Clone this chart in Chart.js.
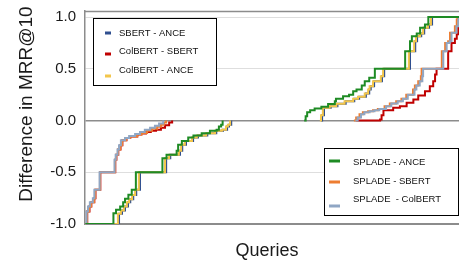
<!DOCTYPE html>
<html>
<head>
<meta charset="utf-8">
<script src="https://cdn.jsdelivr.net/npm/chart.js@4/dist/chart.umd.min.js"></script>
<style>
  html, body { margin: 0; padding: 0; background: #fff; }
  canvas { display: block; }
</style>
</head>
<body>
<canvas id="myChart" width="459" height="263"></canvas>
<script>
var yTicks = [-1.0, -0.5, 0.0, 0.5, 1.0];
var seriesNames = ['SBERT - ANCE', 'ColBERT - SBERT', 'ColBERT - ANCE', 'SPLADE - ANCE', 'SPLADE - SBERT', 'SPLADE  - ColBERT'];
var seriesColors = ['#2F4F8F', '#C00000', '#F3C64B', '#1E8B24', '#ED7D31', '#8FA6C4'];

// sorted per-query differences: [% of queries, difference] at each step
var sbertAnceNeg = [[0.1,-1.0],[9.1,-0.90],[9.9,-0.87],[10.7,-0.83],[11.5,-0.79],[12.1,-0.76],[12.9,-0.72],[13.7,-0.67],[14.7,-0.5],[21.7,-0.364],[22.8,-0.332],[25.4,-0.293],[26.0,-0.235],[27.0,-0.198],[28.9,-0.164],[30.2,-0.145],[32.7,-0.122],[35.1,-0.10],[36.9,-0.09],[38.0,-0.058],[38.5,-0.042],[39.1,0]];
var sbertAncePos = [[63.1,0],[63.4,0.05],[63.9,0.123],[65.7,0.138],[67.5,0.161],[69.7,0.186],[72.0,0.21],[73.3,0.229],[75.1,0.26],[76.0,0.30],[76.4,0.33],[77.3,0.38],[79.4,0.428],[80.0,0.5],[86.9,0.67],[88.3,0.766],[88.8,0.815],[89.9,0.84],[90.7,0.896],[92.0,0.928],[92.8,1.0],[100,1.0]];

var colbertSbertNeg = [[0.3,-1.0],[0.6,-0.88],[1.2,-0.83],[1.7,-0.79],[2.5,-0.75],[2.8,-0.67],[4.1,-0.5],[8.1,-0.38],[8.4,-0.33],[8.9,-0.28],[9.5,-0.24],[10.0,-0.19],[11.1,-0.17],[12.1,-0.155],[14.0,-0.135],[15.0,-0.125],[16.3,-0.11],[17.6,-0.10],[19.0,-0.09],[20.3,-0.07],[21.4,-0.045],[22.5,-0.02],[23.3,0]];
var colbertSbertPos = [[72.5,0],[78.9,0.01],[79.3,0.05],[79.8,0.10],[82.4,0.123],[84.2,0.138],[86.0,0.171],[87.8,0.203],[89.1,0.242],[90.9,0.283],[92.2,0.33],[93.1,0.38],[93.6,0.444],[94.0,0.5],[97.1,0.67],[98.0,0.75],[98.9,0.79],[99.4,0.833],[99.8,0.91],[100,0.93]];

var colbertAnceNeg = [[0.1,-1.0],[8.8,-0.90],[9.6,-0.87],[10.4,-0.83],[11.2,-0.79],[11.8,-0.76],[12.6,-0.72],[13.4,-0.67],[14.4,-0.5],[21.4,-0.364],[22.5,-0.332],[25.1,-0.293],[25.7,-0.235],[26.7,-0.198],[28.6,-0.164],[29.9,-0.145],[32.4,-0.122],[34.8,-0.10],[36.6,-0.09],[37.7,-0.058],[38.2,-0.042],[38.8,0]];
var colbertAncePos = [[62.8,0],[63.1,0.05],[63.6,0.123],[65.4,0.138],[67.2,0.161],[69.4,0.186],[71.7,0.21],[73.0,0.229],[74.8,0.26],[75.7,0.30],[76.1,0.33],[77.0,0.38],[79.1,0.428],[79.7,0.5],[86.6,0.67],[88.0,0.766],[88.5,0.815],[89.6,0.84],[90.4,0.896],[91.7,0.928],[92.5,1.0],[100,1.0]];

var spladeAnceNeg = [[0.1,-1.0],[7.6,-0.896],[8.3,-0.863],[9.4,-0.831],[10.2,-0.79],[10.7,-0.757],[11.6,-0.718],[12.5,-0.67],[13.6,-0.5],[20.7,-0.364],[21.8,-0.332],[24.5,-0.293],[24.9,-0.235],[25.9,-0.198],[27.6,-0.164],[29.0,-0.145],[31.2,-0.122],[33.4,-0.10],[35.2,-0.09],[35.8,-0.058],[36.4,-0.042],[36.8,0]];
var spladeAncePos = [[58.6,0],[59.0,0.04],[59.4,0.08],[60.2,0.10],[61.4,0.116],[63.2,0.132],[65.0,0.16],[66.8,0.186],[67.1,0.21],[69.0,0.235],[70.6,0.25],[71.7,0.283],[72.6,0.30],[74.0,0.338],[74.8,0.38],[76.0,0.413],[77.5,0.5],[85.6,0.67],[86.9,0.766],[87.4,0.815],[88.7,0.84],[89.6,0.896],[90.9,0.928],[91.8,1.0],[100,1.0]];

var spladeSbertNeg = [[0.3,-1.0],[0.5,-0.88],[1.1,-0.83],[1.6,-0.79],[2.4,-0.75],[2.7,-0.67],[4.0,-0.5],[8.0,-0.38],[8.3,-0.33],[8.8,-0.28],[9.4,-0.24],[9.9,-0.19],[11.0,-0.17],[12.0,-0.155],[13.9,-0.135],[15.2,-0.12],[16.6,-0.10],[17.9,-0.08],[19.3,-0.06],[20.3,-0.04],[21.1,-0.02],[21.7,0]];
var spladeSbertPos = [[71.9,0],[72.5,0.03],[73.4,0.06],[74.3,0.08],[75.7,0.09],[77.0,0.10],[78.3,0.11],[80.1,0.138],[81.5,0.165],[83.2,0.186],[84.6,0.21],[85.9,0.25],[87.7,0.30],[88.2,0.338],[89.1,0.38],[89.8,0.428],[90.0,0.5],[95.4,0.67],[96.3,0.75],[97.1,0.766],[97.6,0.847],[98.9,0.91],[99.4,0.976],[99.6,1.0],[100,1.0]];

var spladeColbertNeg = [[0.3,-1.0],[0.4,-0.88],[0.8,-0.83],[1.3,-0.79],[2.1,-0.75],[2.5,-0.67],[3.9,-0.5],[7.9,-0.38],[8.2,-0.33],[8.7,-0.28],[9.1,-0.24],[9.6,-0.19],[10.7,-0.17],[11.8,-0.15],[13.4,-0.13],[14.7,-0.11],[16.0,-0.09],[17.4,-0.07],[18.7,-0.05],[19.8,-0.03],[20.9,0]];
var spladeColbertPos = [[72.3,0],[72.9,0.03],[73.8,0.06],[74.7,0.08],[76.1,0.09],[77.4,0.10],[78.7,0.11],[80.5,0.138],[81.9,0.165],[83.6,0.186],[85.0,0.21],[86.3,0.25],[88.1,0.30],[88.6,0.338],[89.5,0.38],[90.2,0.428],[90.4,0.5],[95.8,0.67],[96.7,0.75],[97.5,0.766],[98.0,0.847],[99.3,0.91],[99.8,0.976],[100,0.99]];

var seriesParts = [
	[sbertAnceNeg, sbertAncePos],
	[colbertSbertNeg, colbertSbertPos],
	[colbertAnceNeg, colbertAncePos],
	[spladeAnceNeg, spladeAncePos],
	[spladeSbertNeg, spladeSbertPos],
	[spladeColbertNeg, spladeColbertPos]
];
// drawing order: lower is on top
var seriesOrder = [3, 6, 2, 1, 5, 4];

function toPoints(neg, pos){
	var gapX = (neg[neg.length - 1][0] + pos[0][0]) / 2;
	return neg.map(function(p){ return {x: p[0], y: p[1]}; })
		.concat([{x: gapX, y: null}])
		.concat(pos.map(function(p){ return {x: p[0], y: p[1]}; }));
}

var datasets = seriesNames.map(function(name, i){
	return {
		label: name,
		data: toPoints(seriesParts[i][0], seriesParts[i][1]),
		borderColor: seriesColors[i],
		backgroundColor: seriesColors[i],
		borderWidth: 2,
		pointRadius: 0,
		stepped: true,
		spanGaps: false,
		fill: false,
		order: seriesOrder[i]
	};
});

var legendBoxes = [
	{ x: 93.5, y: 18.5, w: 123, h: 67, items: [
		{ ds: 0, sx: 105, sw: 6, sy: 33, tx: 119, ty: 33 },
		{ ds: 1, sx: 105, sw: 6, sy: 54, tx: 119, ty: 51 },
		{ ds: 2, sx: 105, sw: 6, sy: 76, tx: 119, ty: 70 }
	]},
	{ x: 324.5, y: 148.5, w: 134, h: 67, items: [
		{ ds: 3, sx: 329, sw: 11, sy: 161, tx: 353, ty: 162.5 },
		{ ds: 4, sx: 329, sw: 11, sy: 182, tx: 353, ty: 181 },
		{ ds: 5, sx: 329, sw: 11, sy: 206, tx: 353, ty: 199.5 }
	]}
];

var overlay = {
	id: 'overlay',
	afterDraw: function(chart){
		var c = chart.ctx, a = chart.chartArea;
		c.save();
		// top frame line
		c.strokeStyle = '#8c8c8c';
		c.lineWidth = 1.5;
		c.beginPath();
		c.moveTo(a.left, a.top + 0.5);
		c.lineTo(a.right, a.top + 0.5);
		c.stroke();

		// axis titles
		c.fillStyle = '#1a1a1a';
		c.font = '18px "Liberation Sans", Arial, sans-serif';
		c.textAlign = 'center';
		c.textBaseline = 'alphabetic';
		c.fillText('Queries', 267, 256);
		c.save();
		c.translate(31.5, 104);
		c.rotate(-Math.PI / 2);
		c.font = '19px "Liberation Sans", Arial, sans-serif';
		c.fillText('Difference in MRR@10', 0, 0);
		c.restore();

		// legends
		legendBoxes.forEach(function(box){
			c.fillStyle = '#fff';
			c.fillRect(box.x, box.y, box.w, box.h);
			c.strokeStyle = '#000';
			c.lineWidth = 1;
			c.strokeRect(box.x, box.y, box.w, box.h);
			box.items.forEach(function(it){
				var ds = chart.data.datasets[it.ds];
				c.fillStyle = ds.borderColor;
				c.fillRect(it.sx, it.sy - 1.5, it.sw, 3);
				c.fillStyle = '#111';
				c.font = '9.5px "Liberation Sans", Arial, sans-serif';
				c.textAlign = 'left';
				c.textBaseline = 'middle';
				c.fillText(ds.label, it.tx, it.ty);
			});
		});
		c.restore();
	}
};

var myChart = new Chart(document.getElementById('myChart'), {
	type: 'line',
	data: { datasets: datasets },
	options: {
		responsive: false,
		animation: false,
		devicePixelRatio: 1,
		layout: { padding: { top: 11, right: 0, left: 0, bottom: 0 } },
		plugins: { legend: { display: false }, tooltip: { enabled: false } },
		scales: {
			x: {
				type: 'linear',
				min: 0,
				max: 100,
				ticks: { display: false },
				grid: { display: false },
				border: { display: true, color: '#8c8c8c', width: 1.5 },
				afterFit: function(s){
					s.height = 39;
					s.paddingLeft = 0; s.paddingRight = 0;
				}
			},
			y: {
				type: 'linear',
				min: -1.0,
				max: 1.058,
				afterBuildTicks: function(s){
					s.ticks = yTicks.map(function(v){ return { value: v }; });
				},
				afterFit: function(s){
					s.width = 85;
					s.paddingTop = 0; s.paddingBottom = 0;
				},
				ticks: {
					padding: 9,
					color: '#1a1a1a',
					font: { family: '"Liberation Sans", Arial, sans-serif', size: 15 },
					callback: function(v){ return Number(v).toFixed(1); }
				},
				grid: {
					drawTicks: false,
					color: function(ctx){
						var v = ctx.tick ? ctx.tick.value : null;
						return (v === 0 || v === -1) ? '#8c8c8c' : '#dedede';
					},
					lineWidth: function(ctx){
						var v = ctx.tick ? ctx.tick.value : null;
						return v === 0 ? 1.5 : 1;
					}
				},
				border: { display: true, color: '#8c8c8c', width: 1.5 }
			}
		}
	},
	plugins: [overlay]
});
</script>
</body>
</html>
